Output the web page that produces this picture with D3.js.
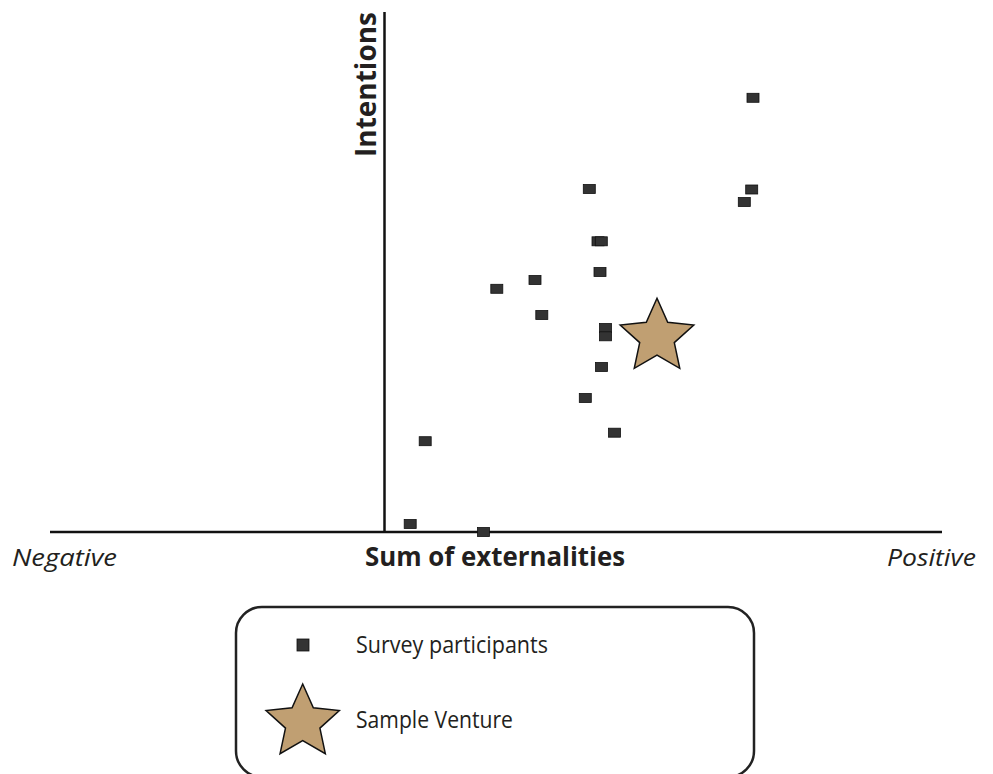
<!DOCTYPE html>
<html>
<head>
<meta charset="utf-8">
<script src="https://cdn.jsdelivr.net/npm/d3@7"></script>
<style>
  body { margin: 0; background: #fff; }
  text { font-family: "Open Sans", sans-serif; fill: #231f20; }
</style>
</head>
<body>
<svg id="chart"></svg>
<script>
// externality sum (x) vs intentions (y), survey participants
const participantsX = [3.685, 2.048, 3.672, 3.598, 2.135, 2.168, 2.155, 1.505, 1.123, 1.573, 2.21, 2.21, 2.17, 2.008, 2.30, 0.407, 0.257, 0.99];
const participantsY = [4.342, 3.43, 3.425, 3.30, 2.907, 2.907, 2.60, 2.52, 2.432, 2.17, 2.04, 1.957, 1.65, 1.34, 0.993, 0.908, 0.08, 0.0];
const ventureX = [2.725];
const ventureY = [1.95];
const legendLabels = ["Survey participants", "Sample Venture"];

const W = 993, H = 774;
const svg = d3.select("#chart").attr("width", W).attr("height", H);

// scales: origin at the crossing of the two axis lines
const x = d3.scaleLinear().domain([-3.345, 5.575]).range([50, 942]);
const y = d3.scaleLinear().domain([0, 5.2]).range([532, 12]);

// axes (plain lines, no ticks)
svg.append("line")
  .attr("x1", x(-3.345)).attr("x2", x(5.575))
  .attr("y1", y(0)).attr("y2", y(0))
  .attr("stroke", "#111").attr("stroke-width", 2.5);
svg.append("line")
  .attr("x1", x(0)).attr("x2", x(0))
  .attr("y1", y(0)).attr("y2", y(5.2))
  .attr("stroke", "#111").attr("stroke-width", 2.5);

// axis titles
svg.append("text")
  .attr("transform", `translate(${x(0) - 9},${y(5.2) + 145}) rotate(-90)`)
  .attr("textLength", 145).attr("lengthAdjust", "spacingAndGlyphs")
  .style("font-size", "28px").style("font-weight", "bold")
  .text("Intentions");

svg.append("text")
  .attr("x", 365).attr("y", 566)
  .attr("textLength", 260).attr("lengthAdjust", "spacingAndGlyphs")
  .style("font-size", "27px").style("font-weight", "bold")
  .text("Sum of externalities");

svg.append("text")
  .attr("x", 12).attr("y", 566)
  .attr("textLength", 105).attr("lengthAdjust", "spacingAndGlyphs")
  .style("font-size", "24px").style("font-style", "italic")
  .text("Negative");

svg.append("text")
  .attr("x", 887).attr("y", 566)
  .attr("textLength", 89).attr("lengthAdjust", "spacingAndGlyphs")
  .style("font-size", "24px").style("font-style", "italic")
  .text("Positive");

// star path helper
function starPath(cx, cy, R, ratio) {
  const pts = d3.range(10).map(i => {
    const r = i % 2 === 0 ? R : R * ratio;
    const a = -Math.PI / 2 + i * Math.PI / 5;
    return [cx + r * Math.cos(a), cy + r * Math.sin(a)];
  });
  return "M" + pts.map(p => p.join(",")).join("L") + "Z";
}

// participant squares
const pts = participantsX.map((v, i) => ({ x: v, y: participantsY[i] }));
svg.selectAll("rect.pt")
  .data(pts)
  .enter()
  .append("rect")
  .attr("class", "pt")
  .attr("x", d => x(d.x) - 6)
  .attr("y", d => y(d.y) - 4.5)
  .attr("width", 12)
  .attr("height", 9)
  .attr("fill", "#333")
  .attr("stroke", "#111")
  .attr("stroke-width", 0.8);

// sample venture star
svg.selectAll("path.venture")
  .data(ventureX.map((v, i) => ({ x: v, y: ventureY[i] })))
  .enter()
  .append("path")
  .attr("class", "venture")
  .attr("d", d => starPath(x(d.x), y(d.y), 38.7, 0.47))
  .attr("fill", "#c09f72")
  .attr("stroke", "#111")
  .attr("stroke-width", 1.5)
  .attr("stroke-linejoin", "miter");

// legend
const legend = svg.append("g");
legend.append("rect")
  .attr("x", 236).attr("y", 607)
  .attr("width", 518).attr("height", 170)
  .attr("rx", 26).attr("ry", 26)
  .attr("fill", "none")
  .attr("stroke", "#222")
  .attr("stroke-width", 2.5);

legend.append("rect")
  .attr("x", 297).attr("y", 639)
  .attr("width", 12).attr("height", 12)
  .attr("fill", "#333").attr("stroke", "#111").attr("stroke-width", 0.8);

legend.append("path")
  .attr("d", starPath(302.7, 722.5, 38.5, 0.47))
  .attr("fill", "#c09f72")
  .attr("stroke", "#111")
  .attr("stroke-width", 1.5);

legend.append("text")
  .attr("x", 356).attr("y", 653)
  .attr("textLength", 192).attr("lengthAdjust", "spacingAndGlyphs")
  .style("font-size", "23px")
  .text(legendLabels[0]);

legend.append("text")
  .attr("x", 356).attr("y", 728)
  .attr("textLength", 157).attr("lengthAdjust", "spacingAndGlyphs")
  .style("font-size", "23px")
  .text(legendLabels[1]);
</script>
</body>
</html>
